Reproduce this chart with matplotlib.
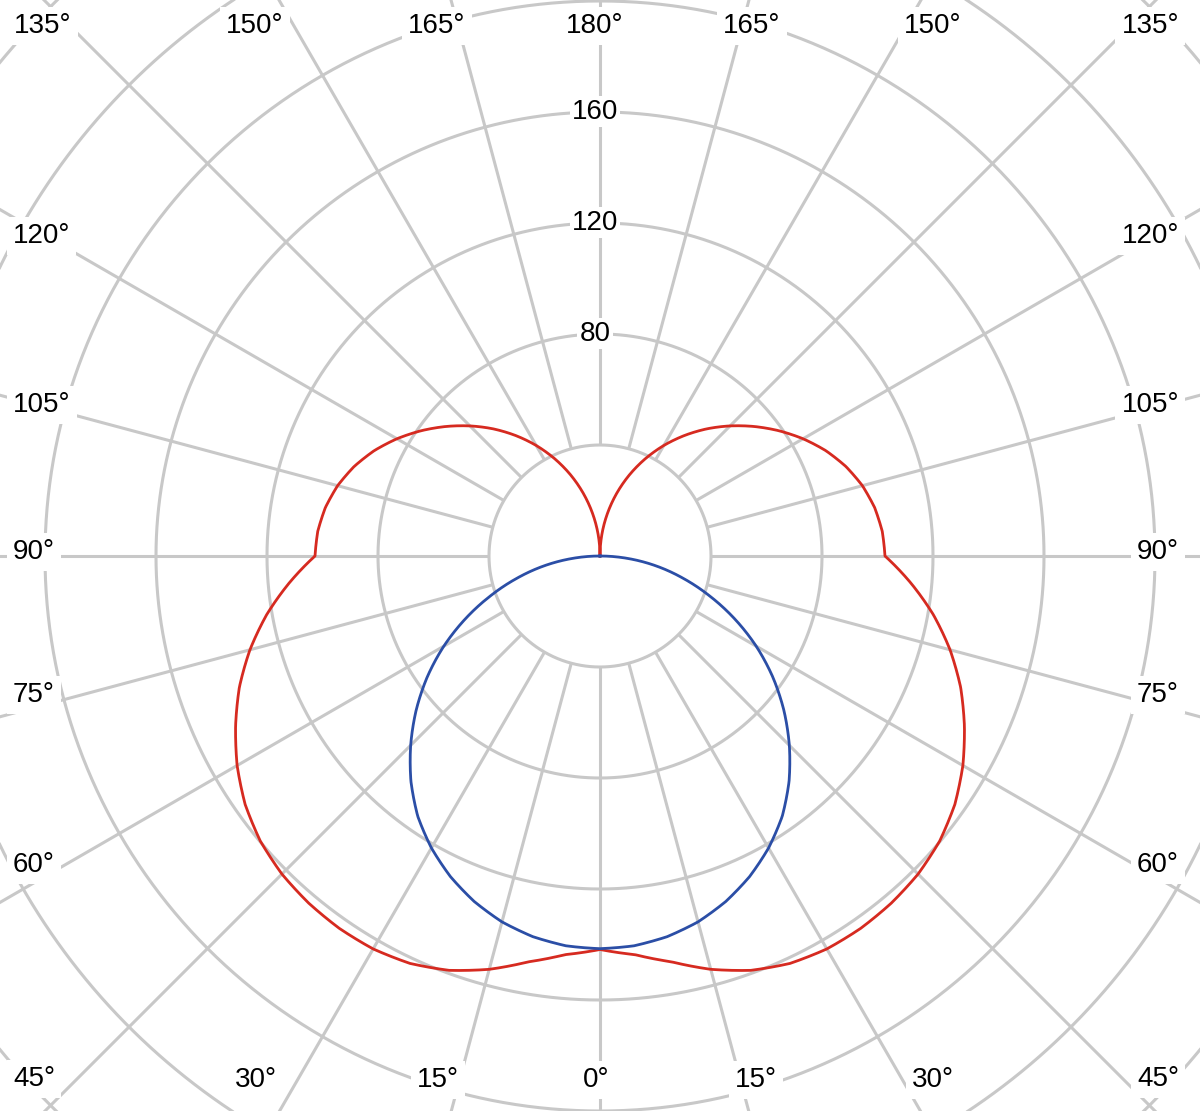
import numpy as np
import matplotlib
matplotlib.use("Agg")
import matplotlib.pyplot as plt

# ---- data ----
angles = [0, 5, 10, 15, 20, 25, 30, 35, 40, 45, 50, 55, 60, 65, 70, 75, 80, 85, 90,
          95, 100, 105, 110, 115, 120, 125, 130, 135, 140, 145, 150, 155, 160, 165,
          170, 175, 180]
red_c0_c180 = [141.8, 144.2, 148.5, 154.2, 158.9, 162.0, 163.5, 163.8, 163.3, 162.1,
               159.8, 156.1, 151.0, 144.9, 138.3, 130.6, 122.0, 112.5, 102.7,
               102.1, 100.5, 97.9, 94.3, 89.8, 84.5, 78.7, 72.6, 66.3, 59.8, 53.0,
               46.0, 38.7, 31.2, 23.5, 15.7, 7.9, 0.0]
blue_angles = [0, 5, 10, 15, 20, 25, 30, 35, 40, 45, 50, 55, 60, 65, 70, 75, 80, 85, 90]
blue_c90_c270 = [141.5, 141.0, 139.3, 136.5, 132.5, 127.5, 121.5, 114.5, 106.0, 96.5,
                 86.5, 76.0, 65.0, 53.5, 42.0, 31.0, 20.5, 10.0, 0.0]

ring_values = [40, 80, 120, 160, 200, 240, 280]
ring_labels = [80, 120, 160]
spoke_angles = list(range(0, 360, 15))

# ---- styling ----
W, H = 1200, 1111
GRID = "#c8c8c8"
RED = "#d62a20"
BLUE = "#2b4ea6"
FONT = "Liberation Sans"
FS = 20

fig = plt.figure(figsize=(W / 100, H / 100), dpi=100)
fig.patch.set_facecolor("white")

# polar axes: centre at (600, 556 from top), 2.775 px per unit
RMAX = 300
scale = 111.0 / 40.0
rad_px = RMAX * scale
cx, cy = 600.0, H - 556.0
ax = fig.add_axes([(cx - rad_px) / W, (cy - rad_px) / H, 2 * rad_px / W, 2 * rad_px / H],
                  projection="polar")
ax.set_theta_zero_location("S")
ax.set_theta_direction(1)
ax.set_ylim(0, RMAX)
ax.grid(False)
ax.set_xticks([])
ax.set_yticks([])
ax.spines["polar"].set_visible(False)
ax.patch.set_alpha(0)

# grid rings and spokes
tt = np.linspace(0, 2 * np.pi, 1441)
for v in ring_values:
    ax.plot(tt, np.full_like(tt, v), color=GRID, lw=2.2, zorder=1, solid_capstyle="butt")
for a in spoke_angles:
    th = np.deg2rad(a)
    ax.plot([th, th], [ring_values[0], RMAX], color=GRID, lw=2.2, zorder=1,
            solid_capstyle="butt")

# curves (symmetric halves)
ang = np.deg2rad(np.array(angles, dtype=float))
red = np.array(red_c0_c180)
theta_red = np.concatenate([-ang[::-1], ang[1:]])
r_red = np.concatenate([red[::-1], red[1:]])
ln_red, = ax.plot(theta_red, r_red, color=RED, lw=2.0, zorder=3, solid_joinstyle="round")
ln_red.get_path()._interpolation_steps = 40

bang = np.deg2rad(np.array(blue_angles, dtype=float))
blue = np.array(blue_c90_c270)
theta_blue = np.concatenate([-bang[::-1], bang[1:]])
r_blue = np.concatenate([blue[::-1], blue[1:]])
ln_blue, = ax.plot(theta_blue, r_blue, color=BLUE, lw=2.0, zorder=3, solid_joinstyle="round")
ln_blue.get_path()._interpolation_steps = 40

# ring value labels at the top spoke
for v in ring_labels:
    ax.annotate(str(v), xy=(np.pi, v), xytext=(-3.6, -4.7), textcoords="offset points",
                ha="center", va="baseline", fontsize=FS, family=FONT, color="black",
                zorder=5, bbox=dict(boxstyle="square,pad=0.08", fc="white", ec="none"))

# angle labels around the border (text, x px, ha, baseline y px from top)
angle_label_layout = [
    ("135°", 14, "left", 33), ("150°", 255, "center", 33), ("165°", 437, "center", 33),
    ("180°", 595, "center", 33), ("165°", 752, "center", 33), ("150°", 933, "center", 33),
    ("135°", 1179, "right", 33),
    ("120°", 13, "left", 243), ("105°", 13, "left", 412), ("90°", 13, "left", 559),
    ("75°", 13, "left", 702), ("60°", 13, "left", 872), ("45°", 13, "left", 1086),
    ("120°", 1179, "right", 243), ("105°", 1179, "right", 412), ("90°", 1179, "right", 559),
    ("75°", 1179, "right", 702), ("60°", 1179, "right", 872), ("45°", 1179, "right", 1086),
    ("30°", 256, "center", 1087), ("15°", 438, "center", 1087), ("0°", 596, "center", 1087),
    ("15°", 756, "center", 1087), ("30°", 933, "center", 1087),
]
for txt, x, ha, yb in angle_label_layout:
    fig.text(x / W, 1 - yb / H, txt, ha=ha, va="baseline", fontsize=FS, family=FONT,
             color="black", zorder=5,
             bbox=dict(boxstyle="square,pad=0.22", fc="white", ec="none"))

fig.savefig("out.png", dpi=100, facecolor="white")
